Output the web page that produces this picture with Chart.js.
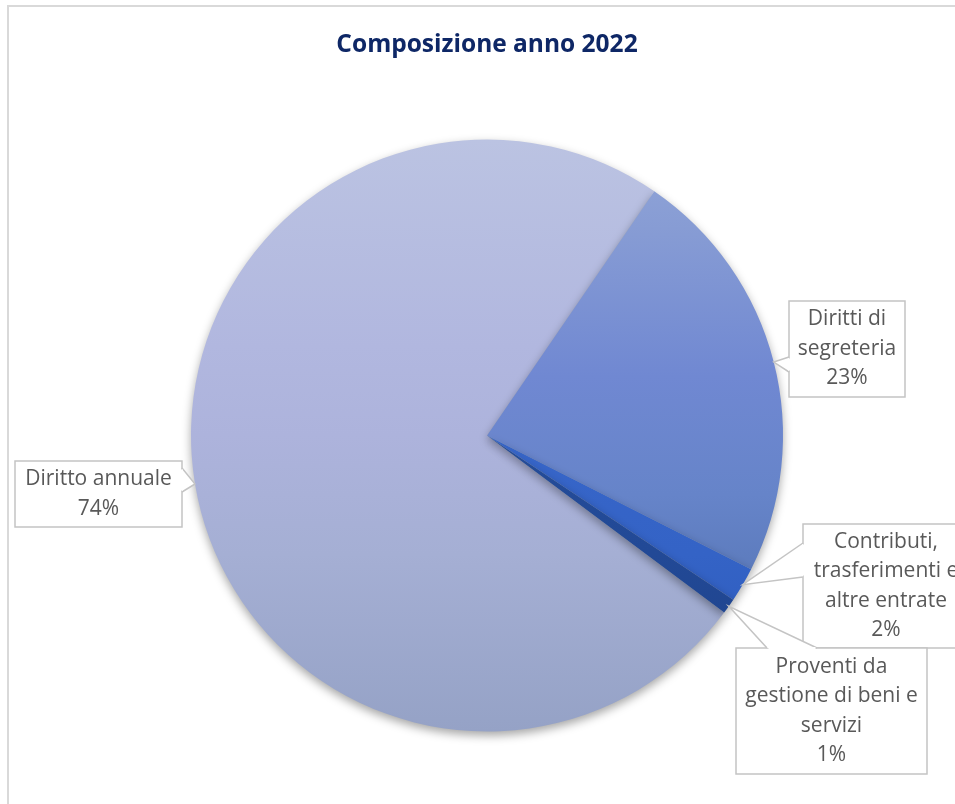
<!DOCTYPE html>
<html>
<head>
<meta charset="utf-8">
<script src="https://cdn.jsdelivr.net/npm/chart.js@4"></script>
<style>
html,body{margin:0;padding:0;background:#fff;}
#wrap{position:relative;width:955px;height:804px;overflow:hidden;}
canvas{display:block;}
</style>
</head>
<body>
<div id="wrap"><canvas id="c" width="955" height="804"></canvas></div>
<script>
// ---- data ----
const categories = ["Diritto annuale", "Diritti di segreteria", "Contributi, trasferimenti e altre entrate", "Proventi da gestione di beni e servizi"];
const labelLines = [["Diritto annuale"], ["Diritti di", "segreteria"], ["Contributi,", "trasferimenti e", "altre entrate"], ["Proventi da", "gestione di beni e", "servizi"]];
const values = [74.35, 22.9, 1.9, 0.85];
const chartTitle = "Composizione anno 2022";

// ---- styles ----
const gradStops = [
  [[0, "#bbc3e2"], [0.35, "#b1b7df"], [0.5, "#adb3dc"], [0.7, "#a5afd4"], [1, "#95a2c6"]],
  [[0, "#92a6d8"], [0.15, "#879cd4"], [0.4, "#7088d2"], [0.6, "#6684c9"], [0.75, "#5b7abb"], [1, "#5372b2"]],
  [[0, "#3f6cd0"], [0.7, "#3463c6"], [1, "#2b58b8"]],
  [[0, "#2a539f"], [0.7, "#224996"], [1, "#1d4188"]]
];
// callout boxes: x, y, w, h, wedge base points
const boxes = [
  {x: 15, y: 461, w: 167, h: 66, base: [[182, 468], [182, 492]]},
  {x: 789, y: 301, w: 116, h: 96, base: [[789, 357], [789, 372]]},
  {x: 803, y: 524, w: 166, h: 124, base: [[803, 543], [803, 577]]},
  {x: 736, y: 648, w: 191, h: 126, base: [[767, 648], [817, 648]]}
];
const LABEL_FONT = "21px 'Open Sans'";
const LINE_H = 29.5;

function makeGrad(chart, i) {
  const a = chart.chartArea;
  if (!a) return gradStops[i][0][1];
  const g = chart.ctx.createLinearGradient(0, a.top, 0, a.bottom);
  gradStops[i].forEach(s => g.addColorStop(s[0], s[1]));
  return g;
}

const shadowPlugin = {
  id: 'shadow',
  beforeDatasetsDraw(chart) {
    const ctx = chart.ctx;
    ctx.save();
    ctx.shadowColor = 'rgba(0,0,0,0.35)';
    ctx.shadowBlur = 10;
    ctx.shadowOffsetY = 4;
  },
  afterDatasetsDraw(chart) {
    chart.ctx.restore();
  }
};

const borderPlugin = {
  id: 'outerBorder',
  beforeDraw(chart) {
    const ctx = chart.ctx;
    ctx.save();
    ctx.fillStyle = '#fff';
    ctx.fillRect(0, 0, chart.width, chart.height);
    ctx.strokeStyle = '#d9d9d9';
    ctx.lineWidth = 2;
    ctx.beginPath();
    ctx.moveTo(8, 810);
    ctx.lineTo(8, 6);
    ctx.lineTo(960, 6);
    ctx.stroke();
    ctx.restore();
  }
};

const calloutPlugin = {
  id: 'callouts',
  afterDatasetsDraw(chart) {
    const ctx = chart.ctx;
    const meta = chart.getDatasetMeta(0);
    const ds = chart.data.datasets[0].data;
    const total = ds.reduce((s, v) => s + v, 0);
    ctx.save();
    meta.data.forEach((arc, i) => {
      const b = boxes[i];
      const p = arc.getProps(['x', 'y', 'startAngle', 'endAngle', 'outerRadius'], true);
      const mid = (p.startAngle + p.endAngle) / 2;
      const tx = p.x + Math.cos(mid) * p.outerRadius;
      const ty = p.y + Math.sin(mid) * p.outerRadius;
      ctx.fillStyle = '#ffffff';
      ctx.strokeStyle = '#c4c4c4';
      ctx.lineWidth = 1.5;
      ctx.beginPath();
      ctx.rect(b.x, b.y, b.w, b.h);
      ctx.fill();
      ctx.stroke();
      ctx.beginPath();
      ctx.moveTo(b.base[0][0], b.base[0][1]);
      ctx.lineTo(tx, ty);
      ctx.lineTo(b.base[1][0], b.base[1][1]);
      ctx.closePath();
      ctx.fill();
      ctx.beginPath();
      ctx.moveTo(b.base[0][0], b.base[0][1]);
      ctx.lineTo(tx, ty);
      ctx.lineTo(b.base[1][0], b.base[1][1]);
      ctx.stroke();
      ctx.strokeStyle = '#ffffff';
      ctx.lineWidth = 2;
      ctx.beginPath();
      const dx = b.base[1][0] - b.base[0][0], dy = b.base[1][1] - b.base[0][1];
      const len = Math.hypot(dx, dy);
      const ux = dx / len, uy = dy / len;
      ctx.moveTo(b.base[0][0] + ux * 1.5, b.base[0][1] + uy * 1.5);
      ctx.lineTo(b.base[1][0] - ux * 1.5, b.base[1][1] - uy * 1.5);
      ctx.stroke();
      const lines = labelLines[i].concat([Math.round(ds[i] / total * 100) + '%']);
      ctx.fillStyle = '#595959';
      ctx.font = LABEL_FONT;
      ctx.textAlign = 'center';
      ctx.textBaseline = 'middle';
      const cx = b.x + b.w / 2;
      const cy = b.y + b.h / 2;
      const y0 = cy - (lines.length - 1) * LINE_H / 2;
      lines.forEach((t, k) => ctx.fillText(t, cx, y0 + k * LINE_H));
    });
    ctx.restore();
  }
};

const chart = new Chart(document.getElementById('c'), {
  type: 'pie',
  data: {
    labels: categories,
    datasets: [{
      data: values,
      backgroundColor: (c) => makeGrad(c.chart, c.dataIndex),
      borderWidth: 0,
      hoverOffset: 0
    }]
  },
  plugins: [borderPlugin, shadowPlugin, calloutPlugin],
  options: {
    responsive: false,
    animation: false,
    devicePixelRatio: 1,
    rotation: 126.75,
    layout: {padding: {top: 30, bottom: 72.5, left: 191, right: 172}},
    plugins: {
      legend: {display: false},
      tooltip: {enabled: false},
      title: {
        display: true,
        text: chartTitle,
        color: '#0e2766',
        font: {family: 'Open Sans', size: 24.5, weight: 'bold', lineHeight: 1.2},
        padding: {top: 0, bottom: 80.1}
      }
    }
  }
});
</script>
</body>
</html>
